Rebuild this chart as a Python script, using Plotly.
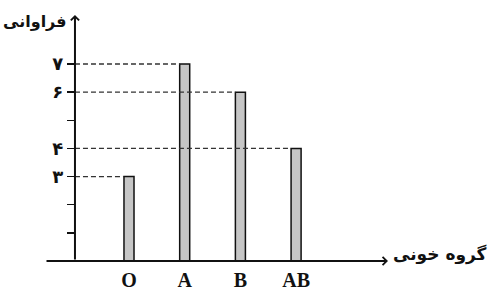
import plotly.graph_objects as go

# ---- data ----
groups = ["O", "A", "B", "AB"]
freq = [3, 7, 6, 4]
ytick_vals = [1, 2, 3, 4, 5, 6, 7]
ytick_text = ["", "", "\u06F3", "\u06F4", "", "\u06F6", "\u06F7"]
y_title = "فراوانی"
x_title = "گروه خونی"

# ---- layout constants ----
W, H = 497, 293
ML, MR, MT, MB = 45, 107, 14, 32
X_RANGE = [-1.508, 4.686]
Y_RANGE = [0, 8.777]
Y_AXIS_X = -0.97          # where the vertical axis crosses (category units)
BAR_W = 0.18
PW = W - ML - MR
PH = H - MT - MB

fig = go.Figure()
fig.add_trace(go.Bar(
    x=groups, y=freq, width=BAR_W,
    marker=dict(color="#c6c6c6", line=dict(color="#111111", width=1.5)),
    hoverinfo="skip",
))

shapes = []
for i, v in enumerate(freq):
    shapes.append(dict(
        type="line", xref="x", yref="y",
        x0=Y_AXIS_X, x1=i - BAR_W / 2, y0=v, y1=v,
        line=dict(color="#333333", width=1.3, dash="5px,3px"),
        layer="above",
    ))

annotations = [
    # x axis with arrow
    dict(xref="x", yref="y", x=4.65, y=0, axref="x", ayref="y", ax=X_RANGE[0], ay=0,
         text="", showarrow=True, arrowhead=4, arrowsize=0.8, arrowwidth=2,
         arrowcolor="#111111", standoff=0, startstandoff=0),
    # y axis with arrow
    dict(xref="x", yref="y", x=Y_AXIS_X, y=8.74, axref="x", ayref="y", ax=Y_AXIS_X, ay=0,
         text="", showarrow=True, arrowhead=4, arrowsize=0.8, arrowwidth=2,
         arrowcolor="#111111", standoff=0, startstandoff=0),
    dict(xref="paper", yref="paper", x=(69 - ML) / PW, y=(H - MB - 22) / PH,
         xanchor="right", yanchor="middle", text=y_title, showarrow=False,
         font=dict(family="DejaVu Sans", size=16, color="#111111", weight="bold")),
    dict(xref="paper", yref="paper", x=(391 - ML) / PW, y=(H - MB - 254) / PH,
         xanchor="left", yanchor="middle", text=x_title, showarrow=False,
         font=dict(family="DejaVu Sans", size=17, color="#111111", weight="bold")),
]

fig.update_layout(
    width=W, height=H,
    margin=dict(l=ML, r=MR, t=MT, b=MB, pad=0, autoexpand=False),
    paper_bgcolor="white", plot_bgcolor="white",
    showlegend=False,
    shapes=shapes, annotations=annotations,
    xaxis=dict(
        type="category", range=X_RANGE, showgrid=False, zeroline=False, showline=False,
        automargin=False,
        ticks="outside", ticklen=1, tickcolor="rgba(0,0,0,0)",
        tickfont=dict(family="Liberation Serif", size=20, color="#111111", weight="bold"),
        fixedrange=True,
    ),
    yaxis=dict(
        range=Y_RANGE, anchor="free", position=(Y_AXIS_X - X_RANGE[0]) / (X_RANGE[1] - X_RANGE[0]),
        showgrid=False, zeroline=False, showline=False, automargin=False,
        tickmode="array", tickvals=ytick_vals, ticktext=ytick_text,
        ticks="outside", ticklen=8, tickwidth=1.5, tickcolor="#111111",
        tickfont=dict(family="DejaVu Sans", size=18, color="#111111", weight="bold"),
        fixedrange=True,
    ),
)

fig.write_html(
    "out.html",
    config={"displayModeBar": False, "staticPlot": True},
    post_script="document.body.style.margin='0';document.body.style.padding='0';document.body.style.overflow='hidden';",
)
